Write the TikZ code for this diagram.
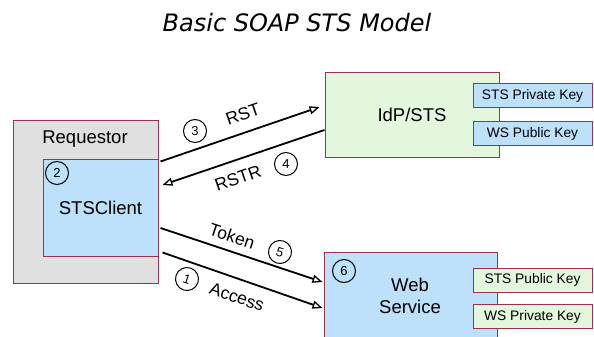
\documentclass[tikz,border=0pt]{standalone}
\usepackage{fontspec}
\setmainfont{Liberation Sans}
\newfontfamily\titlefont{DejaVu Sans}
\usepackage{tikz}
\usetikzlibrary{arrows.meta}

\definecolor{edgered}{RGB}{155,50,80}
\definecolor{reqgray}{RGB}{224,224,224}
\definecolor{cliblue}{RGB}{189,224,251}
\definecolor{stsgreen}{RGB}{226,247,220}

\begin{document}
\begin{tikzpicture}
	[x=1pt,y=-1pt,
	 box/.style={draw=edgered,line width=1pt,inner sep=0pt},
	 big/.style={font=\fontsize{18.5}{22}\selectfont},
	 key/.style={box,minimum width=119pt,minimum height=24pt,font=\fontsize{13.8}{15}\selectfont},
	 num/.style={circle,draw=black,line width=1pt,minimum size=23pt,inner sep=0pt,font=\fontsize{13}{14}\selectfont},
	 lbl/.style={font=\fontsize{17.5}{19}\selectfont},
	 arr/.style={-{Triangle[open,length=10pt,width=8pt,line width=1.3pt]},line width=1.8pt}]

	\clip (0,0) rectangle (594,337);
	\fill[white] (0,0) rectangle (594,337);

	\node[font=\titlefont\itshape\fontsize{24}{27}\selectfont] (title) at (297,23) {Basic SOAP STS Model};

	% requestor side
	\node[box,fill=reqgray,minimum width=145pt,minimum height=163pt] (req) at (85.5,201.5) {};
	\node[big] (reqtxt) at (85,139) {Requestor};
	\node[box,big,fill=cliblue,minimum width=115pt,minimum height=97pt] (cli) at (100.5,207.5) {STSClient};
	\node[num] (n2) at (57,173) {2};

	% idp
	\node[box,big,fill=stsgreen,minimum width=174pt,minimum height=85pt] (idp) at (412,114.5) {IdP/STS};
	\node[key,fill=cliblue] (stspriv) at (532.5,95.5) {STS Private Key};
	\node[key,fill=cliblue] (wspub) at (532.5,133.5) {WS Public Key};

	% web service
	\node[box,fill=cliblue,minimum width=173pt,minimum height=96pt] (ws) at (410.5,300) {};
	\node[big,align=center] (wstxt) at (410,296) {Web\\Service};
	\node[num] (n6) at (344,271) {6};
	\node[key,fill=stsgreen] (stspub) at (532.5,280) {STS Public Key};
	\node[key,fill=stsgreen] (wspriv) at (532.5,316.5) {WS Private Key};

	% messages
	\draw[arr] ([xshift=2pt,yshift=-3pt]cli.north east) -- ([xshift=-5pt,yshift=7.5pt]idp.west);
	\draw[arr] ([yshift=-15.5pt]idp.west) -- ([xshift=4pt,yshift=22.5pt]cli.east);
	\draw[arr] ([xshift=2pt,yshift=-20.5pt]cli.east) -- ([xshift=-1pt,yshift=18pt]ws.west);
	\draw[arr] ([xshift=4pt,yshift=4pt]cli.south east) -- ([xshift=-1pt,yshift=-8pt]ws.west);

	\node[lbl,rotate=19] (rst) at (243,114) {RST};
	\node[num] (n3) at (195,131) {3};
	\node[lbl,rotate=19] (rstr) at (238,178) {RSTR};
	\node[num] (n4) at (286,164) {4};
	\node[lbl,rotate=-18] (token) at (232,236) {Token};
	\node[num,rotate=-18] (n5) at (280,252) {5};
	\node[num,rotate=-18] (n1) at (187,279) {1};
	\node[lbl,rotate=-19] (access) at (237,297) {Access};

\end{tikzpicture}
\end{document}
